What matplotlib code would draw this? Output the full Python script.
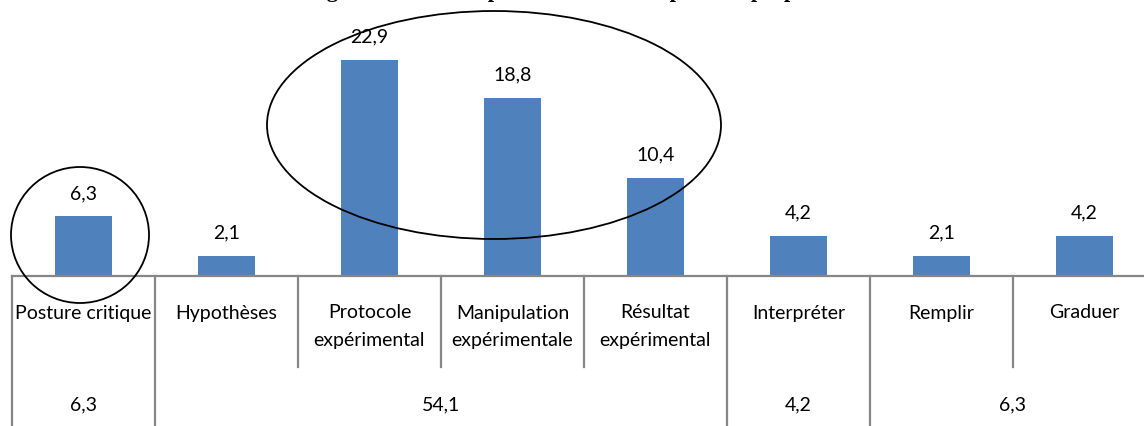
import matplotlib
matplotlib.use("Agg")
import matplotlib.pyplot as plt
from matplotlib.patches import Ellipse

categories = ["Posture critique", "Hypothèses", "Protocole\nexpérimental",
              "Manipulation\nexpérimentale", "Résultat\nexpérimental",
              "Interpréter", "Remplir", "Graduer"]
values = [6.3, 2.1, 22.9, 18.8, 10.4, 4.2, 2.1, 4.2]
value_labels = ["6,3", "2,1", "22,9", "18,8", "10,4", "4,2", "2,1", "4,2"]
group_labels = ["6,3", "54,1", "4,2", "6,3"]
group_spans = [(0, 0), (1, 4), (5, 5), (6, 7)]
title = "Histogramme des compétences sollicitées pour les propositions"

W, H = 1144, 427
fig = plt.figure(figsize=(W / 100, H / 100), dpi=100)
ax = fig.add_axes([0, 0, 1, 1])
ax.set_axis_off()

px_x = 143.0          # pixels per category
x0_px = 12.0          # left edge of first slot
px_y = 9.45           # pixels per unit
base_px = 277.0       # baseline from top

xmin = -0.5 - x0_px / px_x
xmax = xmin + W / px_x
ymax = base_px / px_y
ymin = -(H - base_px) / px_y
ax.set_xlim(xmin, xmax)
ax.set_ylim(ymin, ymax)

blue = "#4F81BD"
grey = "#868686"
font = ["Lato", "DejaVu Sans"]
fs = 14

x = list(range(len(categories)))
ax.bar(x, values, width=0.4, color=blue, zorder=2)
for xi, v, lab in zip(x, values, value_labels):
    ax.text(xi, v + 24 / px_y, lab, ha="center", va="center",
            fontsize=fs, family=font, zorder=4)

# axis line
ax.plot([-0.5, xmax + 1], [0, 0], color=grey, lw=1.6, clip_on=False, zorder=3)

# category labels
for xi, c in zip(x, categories):
    lines = c.split("\n")
    for k, ln in enumerate(lines):
        ax.text(xi, -(313 - base_px + 28 * k) / px_y, ln, ha="center",
                va="center", fontsize=fs, family=font)

# separators
group_bounds = set()
for a, b in group_spans:
    group_bounds.add(a - 0.5)
    group_bounds.add(b + 0.5)
short_bottom = -(368 - base_px) / px_y
for i in range(len(categories) + 1):
    xb = i - 0.5
    if xb in group_bounds:
        ax.plot([xb, xb], [0, ymin], color=grey, lw=1.6, clip_on=False)
    else:
        ax.plot([xb, xb], [0, short_bottom], color=grey, lw=1.6)

for (a, b), g in zip(group_spans, group_labels):
    ax.text((a + b) / 2, -(405 - base_px) / px_y, g, ha="center",
            va="center", fontsize=fs, family=font)

# highlight ellipses
def px_to_data(xp, yp):
    return xmin + xp / px_x, (base_px - yp) / px_y

cx, cy = px_to_data(80, 236)
ax.add_patch(Ellipse((cx, cy), 138 / px_x, 136 / px_y, fill=False,
                     edgecolor="black", lw=1.3, zorder=5))
cx, cy = px_to_data(494, 126)
ax.add_patch(Ellipse((cx, cy), 454 / px_x, 228 / px_y, fill=False,
                     edgecolor="black", lw=1.3, zorder=5))

# title (cut off at top of the picture)
fig.text(0.5, 1 + 3.5 / H, title, ha="center", va="baseline",
         fontsize=16, fontweight="bold", family="Liberation Serif")

fig.savefig("out.png", dpi=100)
